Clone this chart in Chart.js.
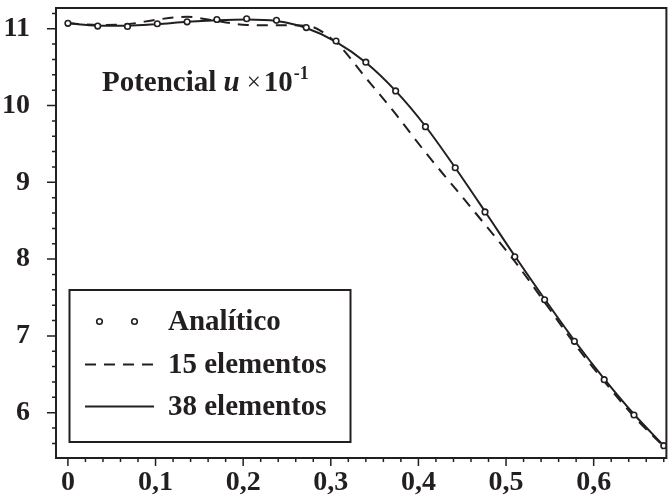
<!DOCTYPE html>
<html>
<head>
<meta charset="utf-8">
<script src="https://cdn.jsdelivr.net/npm/chart.js@4.4.1/dist/chart.umd.min.js"></script>
<style>
html, body { margin: 0; padding: 0; background: #fff; }
#wrap { width: 672px; height: 499px; }
</style>
</head>
<body>
<div id="wrap"><canvas id="grafico" width="672" height="499"></canvas></div>
<script>
// posições ao longo do domínio
var xs = [0, 0.034, 0.068, 0.102, 0.136, 0.17, 0.204, 0.238, 0.272, 0.306, 0.34,
          0.374, 0.408, 0.442, 0.476, 0.51, 0.544, 0.578, 0.612, 0.646, 0.68];

var analitico = [11.07, 11.035, 11.03, 11.065, 11.09, 11.12, 11.13, 11.11, 11.015, 10.84, 10.565,
                 10.19, 9.725, 9.19, 8.615, 8.03, 7.47, 6.93, 6.43, 5.97, 5.57];

var elem15 = [11.07, 11.05, 11.06, 11.12, 11.155, 11.10, 11.05, 11.045, 11.04, 10.82, 10.36,
              9.89, 9.39, 8.92, 8.45, 7.97, 7.44, 6.90, 6.41, 5.95, 5.56];

var elem38 = [11.07, 11.04, 11.04, 11.06, 11.09, 11.11, 11.12, 11.10, 11.01, 10.83, 10.56,
              10.19, 9.73, 9.19, 8.62, 8.04, 7.48, 6.94, 6.44, 5.98, 5.57];

var xRotulos = ['0', '0,1', '0,2', '0,3', '0,4', '0,5', '0,6'];
var yRotulos = ['6', '7', '8', '9', '10', '11'];

var preto = '#231f20';
var fonteSerif = '"Liberation Serif", "Times New Roman", serif';

function pontos(ys) {
  return xs.map(function (x, i) { return { x: x, y: ys[i] }; });
}

function quase(v, passo) {
  var k = Math.round(v / passo);
  return Math.abs(v - k * passo) < 1e-6 ? k : null;
}

// moldura do gráfico
var moldura = {
  id: 'moldura',
  afterDatasetsDraw: function (chart) {
    var a = chart.chartArea, ctx = chart.ctx;
    ctx.save();
    ctx.strokeStyle = preto;
    ctx.lineWidth = 2;
    ctx.strokeRect(a.left, a.top, a.right - a.left, a.bottom - a.top);
    ctx.restore();
  }
};

// marcas maiores e menores dos eixos
var marcas = {
  id: 'marcas',
  afterDraw: function (chart) {
    var ctx = chart.ctx, a = chart.chartArea;
    var sx = chart.scales.x, sy = chart.scales.y;
    ctx.save();
    ctx.strokeStyle = preto;
    ctx.lineWidth = 1.5;
    ctx.beginPath();
    sx.ticks.forEach(function (t) {
      var px = sx.getPixelForValue(t.value);
      var len = quase(t.value, 0.1) !== null ? 8 : 4;
      ctx.moveTo(px, a.bottom);
      ctx.lineTo(px, a.bottom + len);
    });
    sy.ticks.forEach(function (t) {
      var py = sy.getPixelForValue(t.value);
      var len = quase(t.value, 1) !== null ? 9 : 4;
      ctx.moveTo(a.left, py);
      ctx.lineTo(a.left - len, py);
    });
    ctx.stroke();
    ctx.restore();
  }
};

// legenda em caixa e texto do potencial
var legendaCaixa = {
  id: 'legendaCaixa',
  afterDraw: function (chart) {
    var ctx = chart.ctx;
    var ds = chart.data.datasets;
    ctx.save();
    ctx.strokeStyle = preto;
    ctx.lineWidth = 2;
    ctx.strokeRect(69.5, 290, 281, 152);

    ctx.font = 'bold 29px ' + fonteSerif;
    ctx.fillStyle = preto;
    ctx.textBaseline = 'middle';
    ctx.textAlign = 'left';

    var linhas = [321.5, 364.5, 406.5];
    // Analítico: dois círculos
    [99.5, 134.5].forEach(function (cx) {
      ctx.beginPath();
      ctx.arc(cx, linhas[0], ds[0].pointRadius, 0, Math.PI * 2);
      ctx.fillStyle = '#fff';
      ctx.fill();
      ctx.lineWidth = ds[0].pointBorderWidth;
      ctx.strokeStyle = preto;
      ctx.stroke();
    });
    // 15 elementos: tracejado
    ctx.beginPath();
    ctx.setLineDash(ds[1].borderDash);
    ctx.lineWidth = ds[1].borderWidth;
    ctx.moveTo(85, linhas[1]);
    ctx.lineTo(153, linhas[1]);
    ctx.stroke();
    // 38 elementos: contínuo
    ctx.beginPath();
    ctx.setLineDash([]);
    ctx.lineWidth = ds[2].borderWidth;
    ctx.moveTo(85, linhas[2]);
    ctx.lineTo(154, linhas[2]);
    ctx.stroke();

    ctx.fillStyle = preto;
    ds.forEach(function (d, i) {
      ctx.fillText(d.label, 168, linhas[i] + 1);
    });

    // Potencial u x 10^-1
    ctx.textBaseline = 'alphabetic';
    var x = 102, base = 91;
    ctx.font = 'bold 29px ' + fonteSerif;
    ctx.fillText('Potencial ', x, base);
    x += ctx.measureText('Potencial ').width;
    ctx.font = 'italic bold 29px ' + fonteSerif;
    ctx.fillText('u', x, base);
    x += ctx.measureText('u').width + 7;
    ctx.font = '25px ' + fonteSerif;
    ctx.fillText('\u00d7', x, base - 1);
    x += ctx.measureText('\u00d7').width + 3;
    ctx.font = 'bold 29px ' + fonteSerif;
    ctx.fillText('10', x, base);
    x += ctx.measureText('10').width + 1;
    ctx.font = 'bold 18px ' + fonteSerif;
    ctx.fillText('-1', x, base - 12);
    ctx.restore();
  }
};

var grafico = new Chart(document.getElementById('grafico'), {
  type: 'line',
  data: {
    datasets: [
      {
        label: 'Analítico',
        data: pontos(analitico),
        showLine: false,
        pointStyle: 'circle',
        pointRadius: 2.8,
        pointBorderWidth: 1.6,
        pointBackgroundColor: '#fff',
        pointBorderColor: preto,
        borderColor: preto
      },
      {
        label: '15 elementos',
        data: pontos(elem15),
        borderColor: preto,
        borderWidth: 2,
        borderDash: [11, 8],
        pointRadius: 0,
        cubicInterpolationMode: 'monotone',
        fill: false
      },
      {
        label: '38 elementos',
        data: pontos(elem38),
        borderColor: preto,
        borderWidth: 2,
        pointRadius: 0,
        cubicInterpolationMode: 'monotone',
        fill: false
      }
    ]
  },
  options: {
    responsive: false,
    devicePixelRatio: 1,
    animation: false,
    layout: { padding: { top: 8, right: 1, left: 0, bottom: 0 } },
    plugins: {
      legend: { display: false },
      tooltip: { enabled: false }
    },
    scales: {
      x: {
        type: 'linear',
        min: -0.0136,
        max: 0.683,
        afterFit: function (s) {
          s.height = 41;
          s.paddingLeft = 0;
          s.paddingRight = 0;
        },
        grid: { display: false },
        border: { display: false },
        ticks: {
          stepSize: 0.02,
          autoSkip: false,
          includeBounds: false,
          maxRotation: 0,
          padding: 0,
          color: preto,
          font: { family: fonteSerif, size: 28, weight: 'bold' },
          callback: function (v) {
            var k = quase(v, 0.1);
            return k !== null && k >= 0 ? xRotulos[k] : '';
          }
        }
      },
      y: {
        min: 5.41,
        max: 11.27,
        afterFit: function (s) {
          s.width = 56;
          s.paddingTop = 0;
          s.paddingBottom = 0;
        },
        grid: { display: false },
        border: { display: false },
        ticks: {
          stepSize: 0.2,
          autoSkip: false,
          includeBounds: false,
          padding: 18,
          color: preto,
          font: { family: fonteSerif, size: 28, weight: 'bold' },
          callback: function (v) {
            var k = quase(v, 1);
            return k !== null && k >= 6 ? yRotulos[k - 6] : '';
          }
        }
      }
    }
  },
  plugins: [moldura, marcas, legendaCaixa]
});
</script>
</body>
</html>
